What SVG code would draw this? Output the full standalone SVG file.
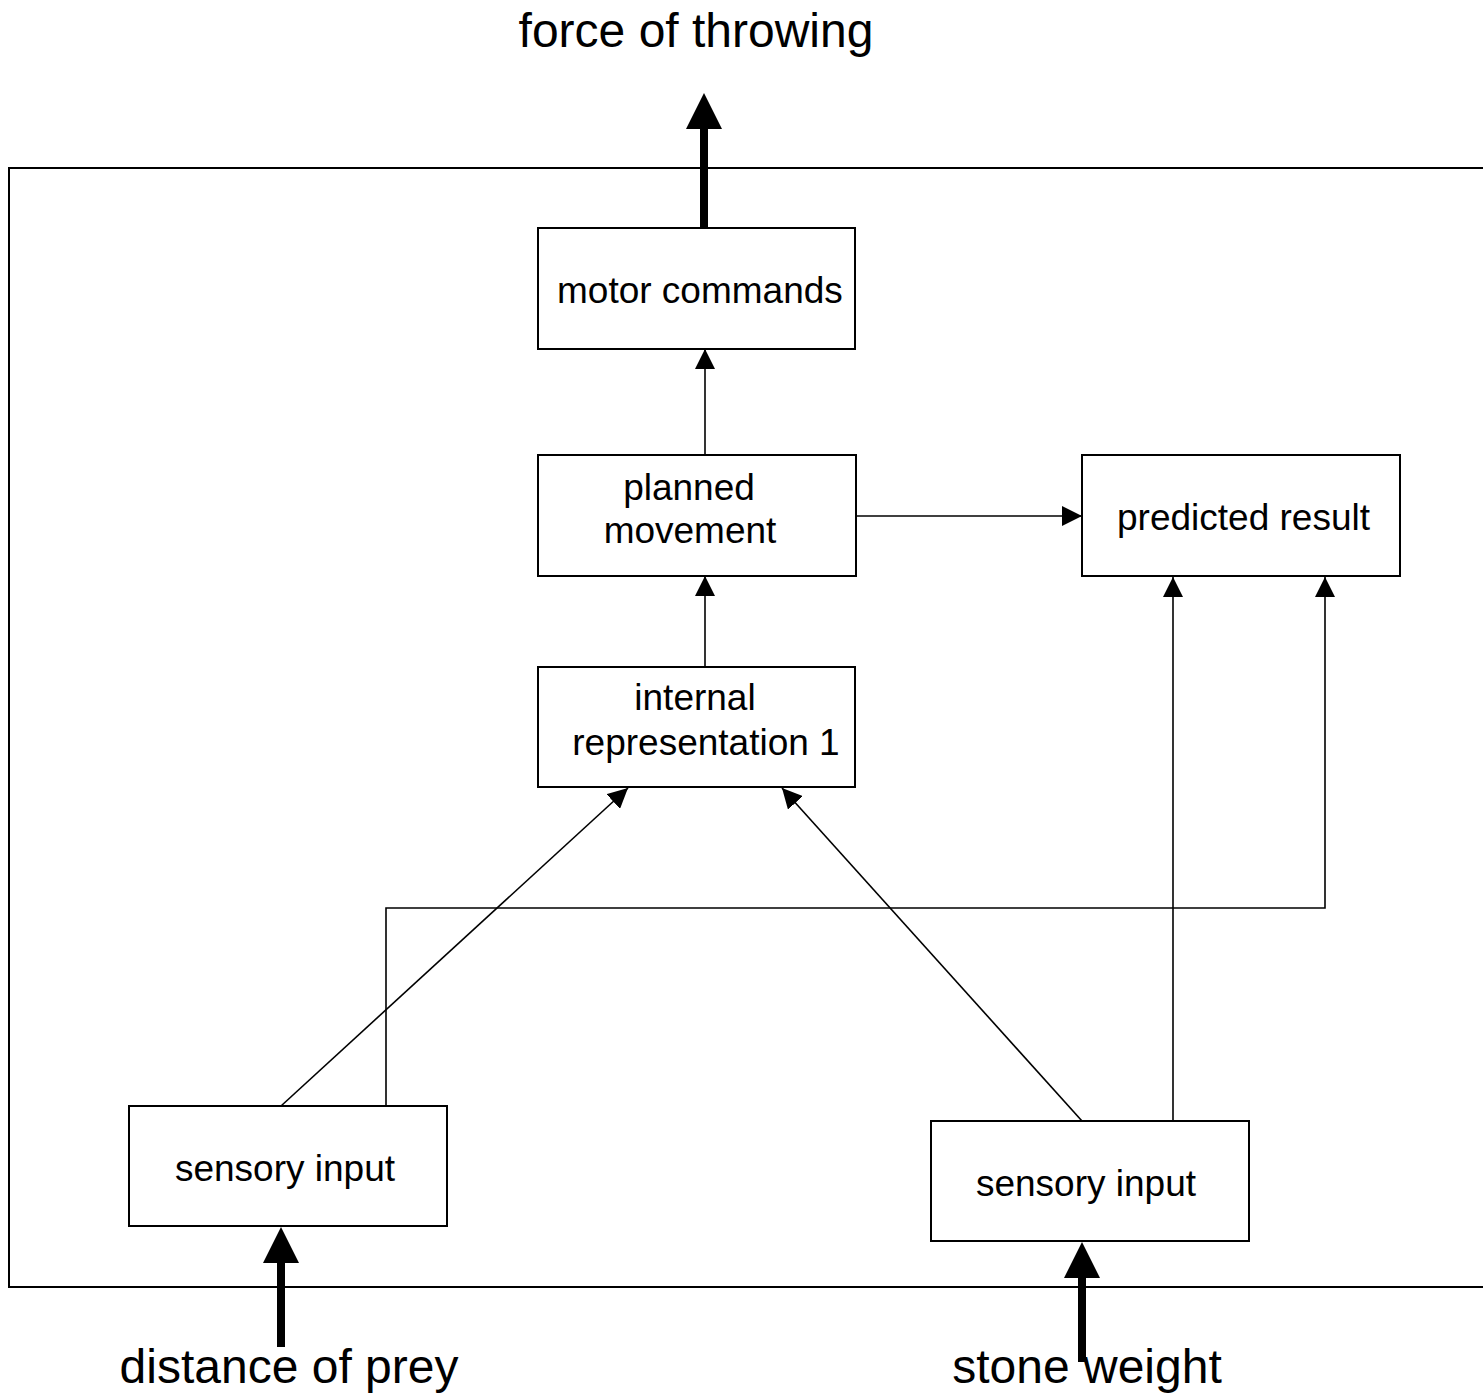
<svg xmlns="http://www.w3.org/2000/svg" width="1483" height="1400" viewBox="0 0 1483 1400">
  <style>
    .box { fill: #fff; stroke: #000; stroke-width: 2; }
    .frame { fill: none; stroke: #000; stroke-width: 2; }
    .lbl { font-family: "Liberation Sans", Arial, sans-serif; font-size: 37px; fill: #000; }
    .big { font-family: "Liberation Sans", Arial, sans-serif; font-size: 48px; fill: #000; }
    .thin { fill: none; stroke: #000; stroke-width: 1.6; marker-end: url(#head); }
    .thick { fill: none; stroke: #000; stroke-width: 8; marker-end: url(#bighead); }
  </style>
  <defs>
    <marker id="head" markerUnits="userSpaceOnUse" markerWidth="20" markerHeight="20" refX="20" refY="10" orient="auto">
      <path d="M0,0 L20,10 L0,20 z" fill="#000"/>
    </marker>
    <marker id="bighead" markerUnits="userSpaceOnUse" markerWidth="36" markerHeight="36" refX="1" refY="18" orient="auto">
      <path d="M0,0 L36,18 L0,36 z" fill="#000"/>
    </marker>
  </defs>

  <rect width="1483" height="1400" fill="#fff"/>

  <!-- system boundary, open on the right -->
  <path class="frame" d="M1483,168 L9,168 L9,1287 L1483,1287"/>

  <g id="connectors">
    <line class="thin" x1="705" y1="455" x2="705" y2="349"/>
    <line class="thin" x1="705" y1="667" x2="705" y2="576"/>
    <line class="thin" x1="856" y1="516" x2="1082" y2="516"/>
    <line class="thin" x1="1173" y1="1121" x2="1173" y2="577"/>
    <path class="thin" d="M386,1106 L386,908 L1325,908 L1325,577"/>
    <line class="thin" x1="281" y1="1106" x2="628" y2="788"/>
    <line class="thin" x1="1082" y1="1121" x2="782" y2="788"/>
    <!-- external inputs and output -->
    <line class="thick" x1="704" y1="228" x2="704" y2="128"/>
    <line class="thick" x1="281" y1="1347" x2="281" y2="1262"/>
    <line class="thick" x1="1082" y1="1362" x2="1082" y2="1277"/>
  </g>

  <g id="motor-commands">
    <rect class="box" x="538" y="228" width="317" height="121"/>
    <text class="lbl" x="557" y="303">motor commands</text>
  </g>

  <g id="planned-movement">
    <rect class="box" x="538" y="455" width="318" height="121"/>
    <text class="lbl" x="689" y="500" text-anchor="middle">planned</text>
    <text class="lbl" x="690" y="543" text-anchor="middle">movement</text>
  </g>

  <g id="predicted-result">
    <rect class="box" x="1082" y="455" width="318" height="121"/>
    <text class="lbl" x="1117" y="530">predicted result</text>
  </g>

  <g id="internal-representation">
    <rect class="box" x="538" y="667" width="317" height="120"/>
    <text class="lbl" x="695" y="710" text-anchor="middle">internal</text>
    <text class="lbl" x="706" y="755" text-anchor="middle">representation 1</text>
  </g>

  <g id="sensory-input-left">
    <rect class="box" x="129" y="1106" width="318" height="120"/>
    <text class="lbl" x="285" y="1181" text-anchor="middle">sensory input</text>
  </g>

  <g id="sensory-input-right">
    <rect class="box" x="931" y="1121" width="318" height="120"/>
    <text class="lbl" x="1086" y="1196" text-anchor="middle">sensory input</text>
  </g>

  <g id="labels">
    <text class="big" x="696" y="47" text-anchor="middle">force of throwing</text>
    <text class="big" x="289" y="1383" text-anchor="middle">distance of prey</text>
    <text class="big" x="1087" y="1383" text-anchor="middle">stone weight</text>
  </g>
</svg>
